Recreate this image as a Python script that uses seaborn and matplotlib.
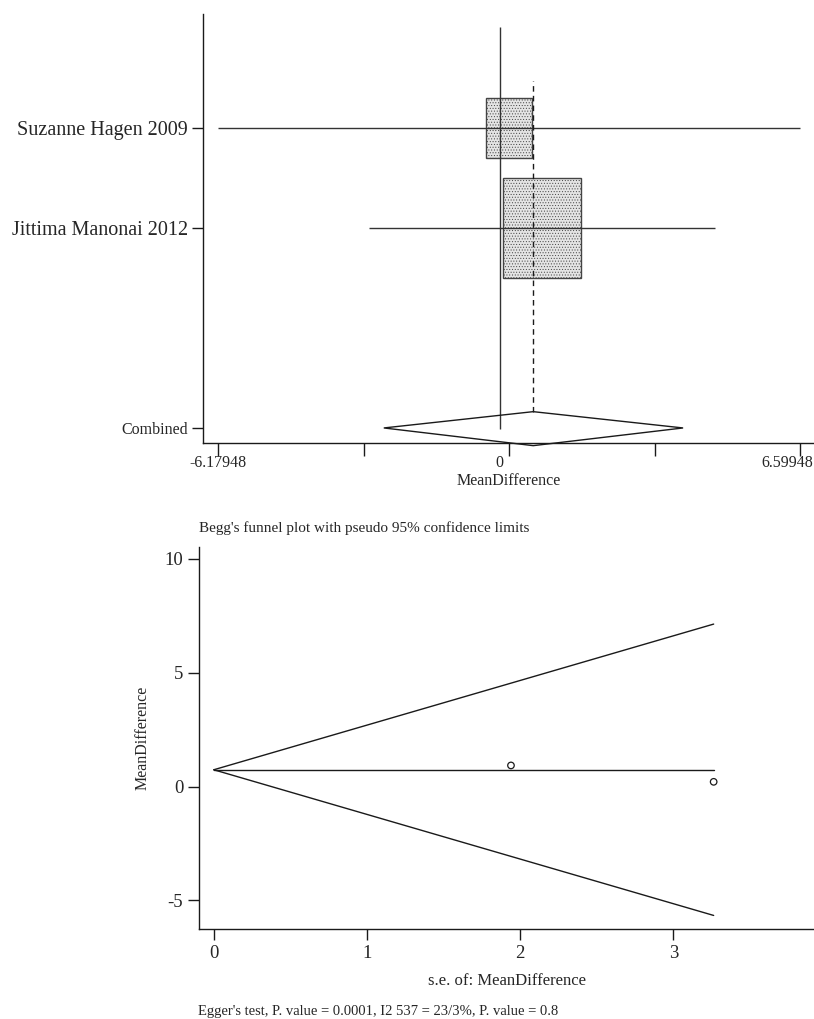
import matplotlib
matplotlib.use("Agg")
import matplotlib.pyplot as plt
import matplotlib.transforms as mtransforms
from matplotlib.patches import Rectangle, Polygon
import seaborn as sns
import pandas as pd

# ---------------- data ----------------
studies = ["Suzanne Hagen 2009", "Jittima Manonai 2012"]
study_rows = [4, 3]
effects = [0.21, 0.93]
ci_low = [-6.18, -2.87]
ci_high = [6.60, 4.74]
weights = [0.261, 0.739]

pooled_label = "Combined"
pooled_row = 1
pooled_effect = 0.74
pooled_low = -2.54
pooled_high = 4.03

forest_tick_labels = ["-6.17948", "0", "6.59948"]
forest_tick_values = [-6.17948, 0.0, 6.59948]
forest_tick_marks = [-6.17948, -2.985, 0.21, 3.405, 6.59948]

funnel_se = [1.94, 3.263]
funnel_md = [0.93, 0.21]
funnel_limit_se = [0.0, 3.263]
funnel_upper = [0.74, 7.14]
funnel_lower = [0.74, -5.66]
funnel_center = [0.74, 0.74]
funnel_yticks = [-5, 0, 5, 10]
funnel_xticks = [0, 1, 2, 3]

# ---------------- style ----------------
sns.set_theme(style="ticks")
plt.rcParams["font.family"] = ["Liberation Serif", "DejaVu Serif"]
plt.rcParams["hatch.linewidth"] = 0.4
plt.rcParams["hatch.color"] = "#7a7a7a"

LC = "#1a1a1a"
fig = plt.figure(figsize=(8.14, 10.19), dpi=100)

# ---------------- forest plot ----------------
ax1 = fig.add_axes([0.2494, 0.5656, 0.7506, 0.4207])
ax1.set_xlim(-6.509, 6.904)
ax1.set_ylim(0.853, 5.14)

for r, e, lo, hi, w in zip(study_rows, effects, ci_low, ci_high, weights):
    bw = 2.0 * w ** 0.5
    bh = 1.163 * w ** 0.5
    ax1.add_patch(Rectangle((e - bw / 2, r - bh / 2), bw, bh,
                            facecolor="#e4e4e4", edgecolor="#444444",
                            hatch="......", linewidth=1.0, zorder=2))
    ax1.hlines(r, lo, hi, color="#333333", linewidth=1.0, zorder=3)

ax1.vlines(0, 0.99, 5.01, color="#333333", linewidth=1.0, zorder=4)
ax1.vlines(pooled_effect, 1.163, 4.47, color=LC, linewidth=1.0,
           linestyles=(0, (4, 3)), zorder=4)
ax1.add_patch(Polygon([(pooled_low, pooled_row), (pooled_effect, pooled_row + 0.163),
                       (pooled_high, pooled_row), (pooled_effect, pooled_row - 0.177)],
                      closed=True, facecolor="none", edgecolor=LC,
                      linewidth=1.0, clip_on=False, zorder=5))

ax1.set_yticks(study_rows + [pooled_row])
ax1.set_yticklabels(studies + [pooled_label])
for lab in ax1.get_yticklabels():
    lab.set_fontsize(11.5 if lab.get_text() == pooled_label else 14.5)

ax1.xaxis.remove_overlapping_locs = False
ax1.set_xticks(forest_tick_marks)
ax1.set_xticklabels([""] * len(forest_tick_marks))
ax1.set_xticks(forest_tick_values, minor=True)
ax1.set_xticklabels(forest_tick_labels, minor=True, fontsize=11.5)
ax1.tick_params(axis="x", which="major", length=9, width=1.0, color=LC, pad=0)
ax1.tick_params(axis="x", which="minor", length=0, pad=9)
ax1.tick_params(axis="y", length=8, width=1.0, color=LC, pad=3)
last = ax1.get_xticklabels(minor=True)[-1]
last.set_horizontalalignment("right")
last.set_transform(last.get_transform() +
                   mtransforms.ScaledTranslation(13 / 100, 0, fig.dpi_scale_trans))
ax1.set_xlabel("MeanDifference", fontsize=11.5, labelpad=1)
sns.despine(ax=ax1)
for s in ("left", "bottom"):
    ax1.spines[s].set_linewidth(1.0)
    ax1.spines[s].set_color(LC)

# ---------------- funnel plot ----------------
ax2 = fig.add_axes([0.2448, 0.088, 0.7552, 0.3755])
ax2.set_xlim(-0.0946, 3.918)
ax2.set_ylim(-6.27, 10.54)

lim_df = pd.DataFrame({"se": funnel_limit_se * 3,
                       "md": funnel_upper + funnel_lower + funnel_center,
                       "line": ["upper"] * 2 + ["lower"] * 2 + ["center"] * 2})
sns.lineplot(data=lim_df, x="se", y="md", units="line", estimator=None,
             color=LC, linewidth=1.0, ax=ax2, sort=False)
pts = pd.DataFrame({"se": funnel_se, "md": funnel_md})
sns.scatterplot(data=pts, x="se", y="md", marker="o", s=22,
                facecolor="none", edgecolor=LC, linewidth=0.9, ax=ax2, zorder=5)

ax2.set_yticks(funnel_yticks)
ax2.set_yticklabels([str(v) for v in funnel_yticks], fontsize=13.5)
ax2.set_xticks(funnel_xticks)
ax2.set_xticklabels([str(v) for v in funnel_xticks], fontsize=13.5)
ax2.tick_params(axis="both", length=8, width=1.0, color=LC)
ax2.set_xlabel("s.e. of: MeanDifference", fontsize=12, labelpad=8)
ax2.set_ylabel("MeanDifference", fontsize=11.5, labelpad=10)
sns.despine(ax=ax2)
for s in ("left", "bottom"):
    ax2.spines[s].set_linewidth(1.0)
    ax2.spines[s].set_color(LC)

fig.text(199 / 814, 1 - 527.7 / 1019, "Begg's funnel plot with pseudo 95% confidence limits",
         fontsize=11, ha="left", va="center")
fig.text(198 / 814, 1 - 1012 / 1019,
         "Egger's test, P. value = 0.0001, I2 537 = 23/3%, P. value = 0.8",
         fontsize=10.5, ha="left", va="center")

fig.savefig("out.png", dpi=100, facecolor="white")
